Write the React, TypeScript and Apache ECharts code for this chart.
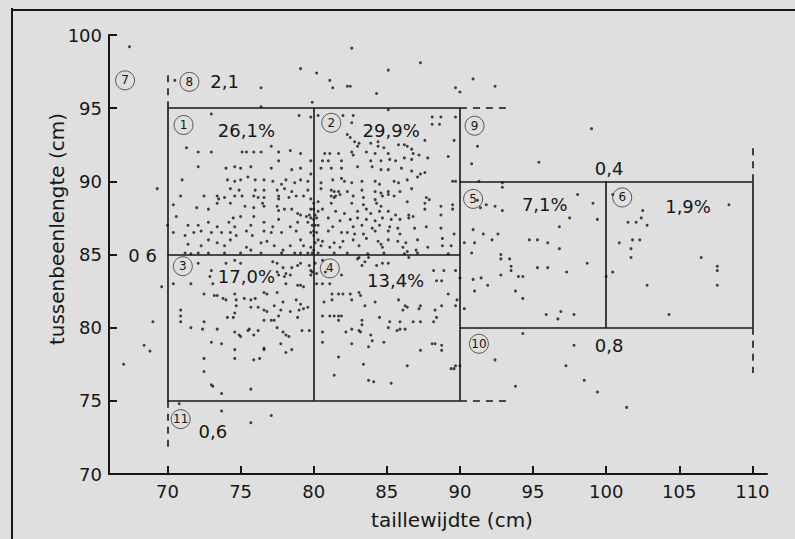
import React, { useEffect, useRef } from "react";
import * as echarts from "echarts";

// ---------- data ----------
const xTicks = [70, 75, 80, 85, 90, 95, 100, 105, 110];
const yTicks = [70, 75, 80, 85, 90, 95, 100];

const pointsRegion1: number[][] = [
  [73.0, 94.6], [79.0, 94.5], [79.8, 94.4], [71.3, 92.3], [72.1, 92.0], [73.0, 92.0], [75.1, 92.0], [75.4, 92.0],
  [75.9, 92.0], [76.4, 92.0], [77.1, 92.4], [77.6, 92.0], [78.4, 92.1], [79.1, 91.9], [79.8, 91.4], [72.1, 91.0],
  [74.0, 90.9], [74.6, 91.0], [75.0, 90.9], [75.7, 91.0], [77.1, 90.9], [77.6, 91.4], [78.5, 90.8], [79.1, 90.9],
  [79.8, 90.5], [71.0, 90.1], [74.1, 90.1], [74.6, 90.0], [75.0, 90.1], [75.5, 90.3], [76.0, 90.1], [76.6, 90.1],
  [77.2, 90.0], [77.8, 89.8], [78.1, 90.1], [78.7, 89.9], [79.1, 90.1], [79.6, 90.0], [74.3, 89.5], [74.9, 89.4],
  [76.0, 89.4], [76.6, 89.4], [77.5, 89.4], [78.0, 89.5], [78.5, 89.3], [79.6, 89.4], [70.9, 89.0], [72.5, 89.0],
  [73.4, 89.0], [73.5, 88.8], [73.9, 88.9], [74.6, 89.0], [75.1, 89.0], [75.9, 89.0], [76.2, 88.9], [76.6, 88.9],
  [76.5, 88.5], [77.6, 89.0], [77.6, 88.8], [78.3, 88.9], [78.8, 89.0], [79.3, 89.0], [79.8, 88.8], [70.4, 88.4],
  [72.0, 88.2], [72.8, 88.1], [73.4, 88.5], [74.3, 88.5], [75.3, 88.3], [75.9, 88.2], [76.6, 88.3], [77.5, 88.3],
  [77.6, 88.0], [78.0, 88.1], [78.5, 88.1], [78.9, 87.8], [79.1, 87.7], [79.5, 87.6], [79.7, 87.7], [79.8, 87.5],
  [79.8, 88.1], [70.6, 87.6], [71.4, 87.0], [72.1, 87.0], [72.8, 87.2], [73.4, 86.9], [74.2, 87.2], [74.5, 87.5],
  [74.6, 86.9], [75.0, 87.6], [75.7, 87.0], [75.9, 87.6], [76.6, 87.2], [77.2, 86.9], [77.6, 87.4], [78.4, 86.9],
  [78.9, 87.2], [79.6, 87.2], [79.9, 87.0], [70.4, 86.5], [71.2, 86.3], [71.8, 86.5], [72.3, 86.6], [73.0, 86.5],
  [73.7, 86.5], [74.3, 86.5], [74.7, 86.3], [75.4, 86.6], [75.8, 86.3], [76.6, 86.6], [77.1, 86.5], [77.8, 86.5],
  [78.8, 86.6], [79.8, 86.5], [71.4, 85.7], [72.3, 85.6], [72.8, 86.0], [73.4, 85.8], [73.9, 85.6], [74.3, 86.0],
  [75.4, 85.5], [75.7, 85.3], [76.4, 85.8], [76.8, 85.9], [77.3, 85.6], [77.9, 85.3], [78.4, 85.6], [79.1, 86.0],
  [79.3, 85.6], [79.8, 85.5], [71.2, 85.1], [71.6, 85.05], [72.1, 85.1], [72.8, 85.1], [73.9, 85.1], [75.0, 85.1],
  [76.4, 85.1], [77.8, 85.1], [78.7, 85.1], [79.1, 85.1], [79.6, 85.1], [79.9, 85.1], [76.4, 95.1],
];

const pointsRegion2: number[][] = [
  [80.3, 94.5], [82.0, 94.5], [82.7, 94.5], [85.1, 94.9], [88.1, 94.4], [88.7, 94.4], [89.7, 94.4], [82.6, 94.0],
  [88.1, 93.9], [88.6, 93.9], [82.3, 93.2], [82.5, 93.0], [82.8, 92.7], [83.1, 92.6], [83.0, 92.4], [83.9, 92.6],
  [84.4, 92.7], [84.4, 92.4], [84.8, 92.3], [85.8, 92.5], [86.2, 92.5], [86.4, 92.4], [86.7, 92.2], [86.8, 91.9],
  [87.6, 92.8], [89.6, 92.8], [80.75, 91.9], [81.1, 91.9], [81.7, 91.9], [82.6, 92.0], [82.7, 91.8], [83.6, 92.0],
  [84.2, 91.9], [85.1, 91.9], [86.2, 91.6], [86.7, 91.5], [87.2, 91.8], [87.8, 91.6], [89.2, 91.7], [80.6, 91.4],
  [81.0, 91.4], [81.9, 91.4], [83.9, 91.4], [84.6, 91.4], [85.2, 91.5], [85.6, 91.4], [80.5, 90.9], [81.2, 90.9],
  [81.9, 90.9], [83.0, 91.0], [84.0, 91.0], [84.6, 90.8], [85.1, 90.8], [86.0, 90.9], [86.7, 90.7], [87.3, 90.5],
  [87.6, 90.6], [80.5, 89.9], [81.3, 90.1], [81.9, 90.2], [82.1, 90.0], [82.6, 89.9], [83.3, 90.0], [84.2, 90.0],
  [84.5, 89.8], [85.5, 90.0], [85.8, 89.9], [86.4, 90.1], [87.1, 90.3], [89.5, 90.0], [89.7, 90.0], [80.5, 89.5],
  [81.2, 89.4], [81.4, 89.3], [81.7, 89.3], [81.8, 89.1], [82.3, 89.3], [83.3, 89.4], [84.2, 89.3], [84.6, 89.2],
  [85.1, 89.3], [85.9, 89.3], [86.7, 89.5], [81.2, 89.0], [81.4, 88.9], [81.5, 89.0], [82.7, 89.0], [83.4, 88.9],
  [84.2, 88.75], [84.7, 89.0], [85.1, 89.1], [85.5, 89.0], [87.7, 88.9], [87.9, 88.75], [80.3, 88.6], [81.2, 88.5],
  [82.6, 88.5], [83.4, 88.4], [84.3, 88.5], [84.6, 88.3], [86.4, 88.6], [87.6, 88.5], [88.7, 88.3], [89.5, 88.4],
  [80.3, 87.95], [80.6, 88.1], [81.5, 87.95], [82.1, 87.8], [83.0, 87.95], [83.6, 88.1], [83.9, 87.8], [84.5, 87.95],
  [85.1, 87.95], [85.6, 87.7], [86.5, 87.7], [86.8, 87.6], [87.6, 88.1], [88.7, 87.7], [89.5, 88.1], [80.2, 87.5],
  [81.0, 87.5], [81.8, 87.3], [82.5, 87.4], [83.0, 87.5], [83.6, 87.4], [84.2, 87.3], [84.7, 87.5], [85.3, 87.4],
  [85.9, 87.4], [86.5, 87.5], [80.3, 87.0], [81.3, 86.9], [82.7, 86.9], [83.3, 87.0], [84.0, 86.8], [84.5, 87.0],
  [85.2, 86.9], [85.75, 86.8], [86.9, 86.8], [87.7, 86.9], [88.7, 86.8], [80.2, 86.5], [81.0, 86.6], [81.9, 86.5],
  [82.3, 86.5], [82.8, 86.4], [83.4, 86.4], [84.2, 86.6], [85.1, 86.6], [85.9, 86.4], [80.3, 86.0], [80.6, 85.9],
  [81.4, 85.8], [82.0, 85.9], [82.7, 86.0], [83.6, 86.1], [84.4, 85.9], [84.6, 85.7], [85.1, 86.0], [85.75, 85.9],
  [86.3, 85.8], [87.1, 86.0], [88.8, 86.1], [89.6, 86.4], [80.5, 85.6], [81.1, 85.5], [81.8, 85.5], [83.1, 85.6],
  [84.7, 85.5], [86.1, 85.5], [86.4, 85.2], [87.0, 85.3], [87.8, 85.5], [88.8, 85.6], [89.4, 85.6], [80.3, 85.1],
  [81.4, 85.1], [82.3, 85.1], [83.7, 85.05], [84.8, 85.1], [86.2, 85.05], [87.1, 85.1], [89.2, 85.05],
  [80.0, 88.5], [80.0, 88.1], [80.1, 87.7], [80.0, 87.4], [80.1, 87.0], [80.0, 86.6], [80.0, 86.3], [80.1, 85.8],
  [80.0, 85.3],
];

const pointsRegion3: number[][] = [
  [72.1, 84.4], [73.0, 83.9], [74.0, 84.4], [74.6, 84.6], [75.0, 84.4], [77.2, 84.5], [77.5, 84.4], [77.9, 84.1],
  [78.5, 84.1], [78.9, 84.25], [79.1, 84.4], [79.7, 84.25], [79.8, 83.9], [79.8, 83.6], [70.4, 83.0], [71.6, 83.0],
  [73.1, 83.0], [72.9, 83.5], [77.5, 83.8], [77.6, 83.6], [78.0, 83.5], [78.1, 83.7], [78.4, 83.6], [78.9, 82.9],
  [79.1, 82.9], [79.3, 82.8], [78.1, 83.0], [77.5, 82.4], [76.8, 82.3], [72.5, 82.3], [73.2, 82.2], [73.4, 82.2],
  [73.8, 82.0], [74.0, 81.9], [74.6, 82.3], [74.7, 81.9], [75.25, 82.0], [75.7, 81.9], [76.0, 82.0], [76.6, 82.4],
  [76.2, 81.4], [75.7, 81.4], [74.7, 81.5], [77.3, 81.5], [77.9, 81.75], [78.8, 81.9], [79.1, 81.6], [79.0, 81.2],
  [79.3, 81.3], [79.6, 81.4], [70.9, 81.2], [70.9, 80.8], [70.9, 80.4], [74.6, 81.0], [74.5, 80.7], [74.1, 80.7],
  [76.6, 81.2], [76.8, 81.1], [77.75, 81.2], [77.6, 80.8], [78.4, 81.1], [78.9, 80.7], [72.5, 80.4], [71.6, 80.0],
  [72.4, 79.9], [73.4, 79.9], [75.5, 79.8], [75.6, 79.9], [74.6, 79.7], [74.9, 79.5], [75.0, 79.4], [75.9, 79.5],
  [76.2, 79.8], [76.6, 80.5], [77.1, 80.5], [77.3, 80.5], [77.5, 80.0], [77.9, 79.7], [78.1, 79.5], [78.3, 79.4],
  [79.2, 79.8], [79.7, 79.8], [73.0, 79.0], [73.7, 78.9], [77.75, 78.9], [76.6, 78.6], [76.6, 78.5], [74.6, 78.5],
  [78.1, 78.3], [78.5, 78.5], [72.5, 77.9], [74.6, 77.9], [75.9, 77.8], [76.3, 77.9], [72.5, 77.0], [73.0, 76.1],
  [73.1, 76.0], [73.7, 75.5], [75.7, 75.8],
];

const pointsRegion4: number[][] = [
  [80.1, 84.4], [80.6, 84.6], [79.9, 83.8], [80.2, 83.7], [80.8, 83.8], [80.6, 83.0], [80.2, 83.0], [81.1, 83.0],
  [81.25, 82.3], [81.25, 81.9], [80.7, 81.75], [81.7, 82.3], [82.0, 82.3], [82.5, 82.3], [83.1, 82.4], [83.2, 82.2],
  [83.0, 84.7], [83.3, 84.25], [83.5, 84.5], [84.3, 84.25], [84.7, 84.4], [85.1, 84.4], [83.5, 81.5], [84.2, 81.75],
  [82.6, 81.9], [85.8, 81.9], [86.25, 81.5], [86.4, 81.4], [86.1, 81.2], [87.2, 81.3], [87.3, 81.5], [88.3, 81.2],
  [88.75, 81.5], [88.4, 83.2], [88.75, 83.2], [88.2, 83.9], [88.9, 83.9], [89.7, 83.9], [89.2, 82.3], [89.7, 81.5],
  [89.8, 81.9], [81.1, 80.8], [81.4, 80.8], [81.7, 80.8], [81.9, 80.8], [81.7, 80.5], [80.6, 80.8], [83.3, 80.5],
  [83.3, 80.2], [83.1, 79.8], [83.2, 79.7], [82.6, 79.9], [84.5, 80.7], [85.2, 80.4], [85.9, 80.4], [85.7, 79.8],
  [85.9, 79.9], [86.25, 79.9], [86.8, 80.4], [87.3, 80.4], [85.1, 80.0], [88.2, 80.4], [88.4, 80.7], [80.6, 79.7],
  [82.2, 79.7], [83.9, 79.5], [84.0, 79.1], [84.8, 79.0], [82.6, 78.9], [83.75, 78.7], [80.6, 79.0], [88.1, 78.9],
  [88.3, 78.9], [88.75, 78.8], [87.3, 78.45], [88.75, 78.45], [81.7, 78.0], [83.4, 77.5], [86.4, 77.4], [89.4, 77.2],
  [89.7, 77.4], [81.4, 76.75], [83.75, 76.4], [84.1, 76.3], [85.3, 76.2], [81.9, 83.6], [83.1, 84.8], [83.75, 84.8],
  [86.5, 84.8], [90.0, 77.4], [89.6, 77.2],
];

const pointsRegion5: number[][] = [
  [91.3, 90.0], [92.9, 89.9], [92.9, 89.6], [91.2, 88.7], [91.4, 88.2], [91.8, 88.4], [92.4, 88.3], [92.9, 88.0],
  [98.05, 89.1], [99.1, 88.5], [99.4, 87.4], [97.5, 87.5], [96.8, 86.9], [90.9, 86.7], [90.3, 85.8], [91.0, 85.8],
  [91.6, 86.4], [92.6, 86.4], [92.2, 86.0], [94.75, 86.0], [95.3, 86.0], [96.0, 85.8], [96.8, 85.4], [92.8, 85.0],
  [92.8, 84.7], [93.4, 84.7], [90.8, 85.1], [93.5, 84.2], [95.3, 84.1], [96.0, 84.1], [98.7, 84.4], [92.8, 83.6],
  [93.5, 83.9], [94.0, 83.5], [94.3, 83.5], [97.3, 83.8], [90.9, 83.3], [91.45, 83.4], [91.9, 82.9], [91.0, 82.5],
  [93.8, 82.5], [94.3, 82.0], [90.3, 81.3], [95.9, 80.9], [96.7, 80.6], [96.9, 81.1], [97.8, 80.9], [100.0, 83.5],
  [90.0, 83.4],
];

const pointsRegion6: number[][] = [
  [100.45, 89.1], [102.5, 88.0], [102.4, 87.5], [102.05, 87.2], [101.5, 87.2], [102.8, 87.0], [101.8, 86.0],
  [102.3, 86.0], [100.9, 85.8], [101.7, 85.4], [101.7, 84.8], [106.5, 84.8], [108.4, 88.4], [107.6, 84.2],
  [100.45, 83.8], [102.8, 82.9], [107.6, 83.9], [107.6, 82.9], [104.3, 80.9],
];

const pointsOutside: number[][] = [
  [87.3, 98.1], [90.9, 97.0], [89.7, 96.4], [90.0, 96.1], [92.4, 96.5], [99.0, 93.6], [91.2, 92.4], [90.8, 91.2],
  [95.4, 91.3], [94.3, 79.6], [97.8, 78.8], [92.4, 77.8], [97.25, 77.4], [98.5, 76.4], [99.4, 75.6], [93.8, 76.0],
  [101.4, 74.55], [67.4, 99.2], [82.6, 99.1], [79.1, 97.7], [80.2, 97.4], [81.1, 96.9], [81.3, 96.4], [82.3, 96.5],
  [82.5, 96.5], [84.3, 96.0], [85.1, 97.6], [76.4, 96.4], [79.9, 95.4], [69.3, 89.5], [70.0, 87.0], [70.5, 96.9],
  [69.6, 82.8], [69.0, 80.4], [68.4, 78.8], [68.8, 78.4], [67.0, 77.5], [70.8, 74.8], [73.7, 74.3], [75.7, 73.5],
  [77.1, 74.0],
];

// region boundaries [x1, y1, x2, y2]
const solidSegments: number[][] = [
  [70, 95, 90, 95], [70, 85, 90, 85], [70, 75, 90, 75], [70, 75, 70, 95], [80, 75, 80, 95], [90, 75, 90, 95],
  [90, 90, 110, 90], [90, 80, 110, 80], [100, 80, 100, 90], [110, 80, 110, 90],
];
const dashedSegments: number[][] = [
  [70, 95, 70, 97.6], [90, 95, 93.4, 95], [110, 90, 110, 92.6], [110, 80, 110, 76.9], [90, 75, 93.3, 75],
  [70, 75, 70, 71.8],
];

// region numbers and their shares (%)
const regionIds = ["1", "2", "3", "4", "5", "6", "7", "8", "9", "10", "11"];
const regionIdAt: number[][] = [
  [71.1, 93.85], [81.2, 94.0], [71.05, 84.2], [81.1, 84.05], [90.9, 88.8], [101.1, 88.9], [67.1, 96.9],
  [71.5, 96.8], [91.0, 93.8], [91.3, 78.9], [70.9, 73.75],
];
const shareLabels = ["26,1%", "29,9%", "17,0%", "13,4%", "7,1%", "1,9%", "2,1", "0,4", "0,8", "0,6", "0 6"];
const shareAt: number[][] = [
  [75.4, 93.5], [85.3, 93.45], [75.4, 83.5], [85.6, 83.25], [95.8, 88.4], [105.6, 88.3], [73.9, 96.8],
  [100.2, 90.9], [100.2, 78.8], [73.1, 72.9], [68.3, 84.95],
];

const xName = "taillewijdte (cm)";
const yName = "tussenbeenlengte (cm)";

// ---------- chart ----------
const INK = "#161616";
const PAPER = "#dfdfdf";
const FONT = "DejaVu Sans";

export default function App() {
  const ref = useRef<HTMLDivElement>(null);

  useEffect(() => {
    if (!ref.current) return;
    const chart = echarts.init(ref.current, undefined, { renderer: "svg" });

    const allPoints = [
      ...pointsRegion1, ...pointsRegion2, ...pointsRegion3, ...pointsRegion4,
      ...pointsRegion5, ...pointsRegion6, ...pointsOutside,
    ];

    const toLines = (segs: number[][]) =>
      segs.map((s) => ({ coords: [[s[0], s[1]], [s[2], s[3]]] }));

    chart.setOption({
      animation: false,
      backgroundColor: PAPER,
      grid: { left: 109, right: 28, top: 35, bottom: 65, containLabel: false },
      xAxis: {
        type: "value",
        min: 66,
        max: 111,
        axisLine: { show: true, onZero: false, lineStyle: { color: INK, width: 2 } },
        axisTick: { show: true, inside: true, length: 8, customValues: xTicks, lineStyle: { color: INK, width: 2 } },
        axisLabel: { customValues: xTicks, fontSize: 18, color: INK, fontFamily: FONT, margin: 8 },
        splitLine: { show: false },
      },
      yAxis: {
        type: "value",
        min: 70,
        max: 100,
        axisLine: { show: true, onZero: false, lineStyle: { color: INK, width: 2 } },
        axisTick: { show: true, inside: true, length: 8, customValues: yTicks, lineStyle: { color: INK, width: 2 } },
        axisLabel: { customValues: yTicks, fontSize: 18, color: INK, fontFamily: FONT, margin: 7 },
        splitLine: { show: false },
      },
      series: [
        {
          type: "lines",
          coordinateSystem: "cartesian2d",
          silent: true,
          lineStyle: { color: INK, width: 1.6, opacity: 1 },
          data: toLines(solidSegments),
          z: 2,
        },
        {
          type: "lines",
          coordinateSystem: "cartesian2d",
          silent: true,
          lineStyle: { color: INK, width: 1.6, opacity: 1, type: [7, 6] },
          data: toLines(dashedSegments),
          z: 2,
        },
        {
          type: "scatter",
          symbol: "circle",
          symbolSize: 3,
          itemStyle: { color: INK },
          data: allPoints,
          z: 3,
        },
        {
          type: "scatter",
          symbol: "circle",
          symbolSize: 19,
          itemStyle: { color: "rgba(0,0,0,0)", borderColor: "#333", borderWidth: 1 },
          label: {
            show: true,
            position: "inside",
            fontSize: 12,
            color: INK,
            opacity: 1,
            textBorderWidth: 0,
            fontFamily: FONT,
            formatter: (p: any) => regionIds[p.dataIndex],
          },
          data: regionIdAt,
          z: 4,
        },
        {
          type: "scatter",
          symbolSize: 1,
          itemStyle: { color: "rgba(0,0,0,0)" },
          label: {
            show: true,
            position: "inside",
            fontSize: 18,
            color: INK,
            opacity: 1,
            textBorderWidth: 0,
            fontFamily: FONT,
            formatter: (p: any) => shareLabels[p.dataIndex],
          },
          data: shareAt,
          z: 4,
        },
      ],
      graphic: [
        { type: "line", shape: { x1: 12, y1: 8, x2: 12, y2: 539 }, style: { stroke: INK, lineWidth: 2 } },
        { type: "line", shape: { x1: 11, y1: 10, x2: 795, y2: 10 }, style: { stroke: INK, lineWidth: 2 } },
        {
          type: "text",
          x: 452,
          y: 520,
          style: { text: xName, fontSize: 20, fill: INK, fontFamily: FONT, align: "center", verticalAlign: "middle" },
        },
        {
          type: "text",
          x: 57,
          y: 229,
          rotation: Math.PI / 2,
          style: { text: yName, fontSize: 20, fill: INK, fontFamily: FONT, align: "center", verticalAlign: "middle" },
        },
      ],
    });

    return () => chart.dispose();
  }, []);

  return (
    <div
      ref={ref}
      style={{ position: "absolute", left: 0, top: 0, width: 795, height: 539, background: PAPER }}
    />
  );
}
